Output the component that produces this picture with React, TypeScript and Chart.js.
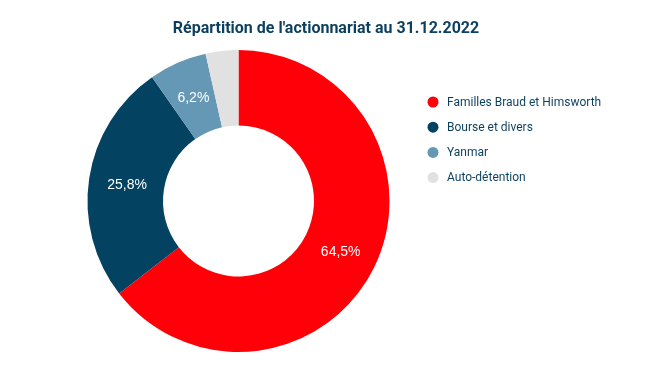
import React, { useEffect, useRef } from "react";
import { Chart, registerables } from "chart.js";

Chart.register(...registerables);

const title = "Répartition de l'actionnariat au 31.12.2022";
const categories = ["Familles Braud et Himsworth", "Bourse et divers", "Yanmar", "Auto-détention"];
const values = [64.5, 25.8, 6.2, 3.5];
const valueLabels = ["64,5%", "25,8%", "6,2%", ""];
const colors = ["#ff0008", "#044261", "#6498b5", "#e1e1e1"];
const textColor = "#0b3f5e";

const overlayPlugin = {
  id: "overlay",
  afterDraw(chart: any) {
    const ctx = chart.ctx as CanvasRenderingContext2D;
    ctx.save();
    // title
    ctx.font = "bold 16px Roboto";
    ctx.fillStyle = textColor;
    ctx.textAlign = "center";
    ctx.textBaseline = "middle";
    ctx.fillText(title, 326, 29);
    // legend
    ctx.font = "12px Roboto";
    ctx.textAlign = "left";
    categories.forEach((c, i) => {
      const y = 102 + i * 25.2;
      ctx.beginPath();
      ctx.arc(433, y, 5.5, 0, Math.PI * 2);
      ctx.fillStyle = colors[i];
      ctx.fill();
      ctx.fillStyle = textColor;
      ctx.fillText(c, 447, y + 0.5);
    });
    // slice labels
    const meta = chart.getDatasetMeta(0);
    ctx.font = "14px 'Liberation Sans', Arial, sans-serif";
    ctx.fillStyle = "#ffffff";
    ctx.textAlign = "center";
    meta.data.forEach((arc: any, i: number) => {
      if (!valueLabels[i]) return;
      const p = arc.tooltipPosition();
      ctx.fillText(valueLabels[i], p.x + 0.5, p.y + 1);
    });
    ctx.restore();
  },
};

export default function App() {
  const ref = useRef<HTMLCanvasElement>(null);
  useEffect(() => {
    if (!ref.current) return;
    const chart = new Chart(ref.current, {
      type: "doughnut",
      data: {
        labels: categories,
        datasets: [
          {
            data: values,
            backgroundColor: colors,
            borderWidth: 0,
          },
        ],
      },
      options: {
        animation: false,
        responsive: false,
        cutout: "50%",
        layout: { padding: { top: 50, bottom: 19, left: 87, right: 262 } },
        plugins: {
          legend: { display: false },
          title: { display: false },
          tooltip: { enabled: false },
        },
      },
      plugins: [overlayPlugin],
    });
    return () => chart.destroy();
  }, []);
  return (
    <div style={{ position: "absolute", left: 0, top: 0, width: 652, height: 371, background: "#fff" }}>
      <canvas ref={ref} width={652} height={371} style={{ width: 652, height: 371 }} />
    </div>
  );
}
